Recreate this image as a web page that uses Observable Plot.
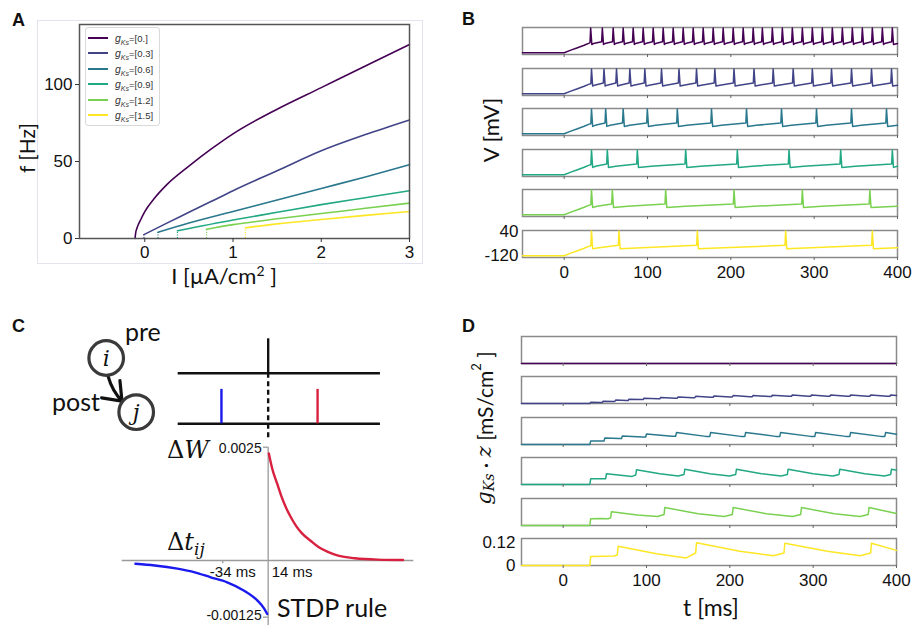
<!DOCTYPE html>
<html><head><meta charset="utf-8">
<script src="https://cdn.jsdelivr.net/npm/d3@7"></script>
<script src="https://cdn.jsdelivr.net/npm/@observablehq/plot@0.6"></script>
<style>
body{margin:0;background:#fff;}
#fig{position:relative;width:912px;height:625px;overflow:hidden;background:#fff;}
#fig > svg, #fig > div{position:absolute;}
</style></head><body><div id="fig"></div>
<script>
// ---------------- DATA ----------------
const gKsLabels = ["0.", "0.3", "0.6", "0.9", "1.2", "1.5"];

// Panel A: f-I curves, [I (uA/cm2), f (Hz)]
const fiG0  = [[-0.11,0],[-0.105,3],[-0.09,6.5],[-0.07,9.5],[-0.04,13],[0,17.5],[0.1,25.5],[0.25,35],[0.5,47],[0.75,58],[1,68],[1.5,84],[2,98],[2.5,112],[3,126]];
const fiG03 = [[-0.01,2.5],[0.25,10],[0.5,17],[0.75,24],[1,31],[1.5,44],[2,57],[2.5,67.5],[3,77]];
const fiG06 = [[0.15,4],[0.5,10],[1,17.5],[1.5,25],[2,32.5],[2.5,40],[3,48]];
const fiG09 = [[0.37,5],[1,12],[1.5,17],[2,22],[2.5,26.5],[3,31]];
const fiG12 = [[0.7,6],[1,9],[1.5,12.8],[2,16.2],[2.5,19.6],[3,23]];
const fiG15 = [[1.14,7],[1.5,9.5],[2,12.3],[2.5,15],[3,17.5]];
const fiCurves = [fiG0, fiG03, fiG06, fiG09, fiG12, fiG15];

// Panels B & D: spike times (ms) per gKs row
const tSpikes = [
  [31,45,58,70,82,94,106,118,130,142,154,166,178,190,202,214,226,237,249,261,273,285,297,309,321,333,345,357,369,381,393],
  [32,47,62,78,96,116,137,158,180,203,227,250,274,297,320,344,368,392],
  [32,49,70,99,135,176,218,260,302,344,386],
  [32,51,87,145,207,269,331,393],
  [32,57,121,203,285,366],
  [32,65,159,265,369]
];
// Panel B: membrane potential levels (mV)
const vRest = -118, vPeak = 44;
const vOnsetRamp = [[8,-101],[16,-85],[24,-69],[30,-55]];
const vAfter = [-64,-68,-70,-70,-70,-73];
const vMid   = [-58,-62,-63,-62,-63,-66];
const vPre   = [-46,-47,-48,-48,-48,-50];

// Panel D: gKs*z (mS/cm2) after each spike (peak), before each spike (trough / pre), mid-ISI, end value
const gzPeak = [
  [],
  [0.006,0.012,0.018,0.023,0.028,0.032,0.035,0.038,0.040,0.042,0.043,0.044,0.045,0.045,0.045,0.045,0.045,0.045],
  [0.018,0.035,0.045,0.056,0.063,0.064,0.064,0.064,0.064,0.064,0.064],
  [0.030,0.057,0.078,0.081,0.081,0.081,0.081,0.081],
  [0.036,0.073,0.095,0.095,0.095,0.095],
  [0.048,0.102,0.120,0.118,0.118]
];
const gzTrough = [
  [],
  [0,0.005,0.011,0.016,0.021,0.025,0.028,0.031,0.033,0.035,0.036,0.037,0.038,0.038,0.038,0.038,0.038,0.038],
  [0,0.018,0.032,0.040,0.044,0.043,0.043,0.043,0.043,0.043,0.043],
  [0,0.030,0.043,0.045,0.045,0.045,0.045,0.045],
  [0,0.036,0.048,0.048,0.048,0.048],
  [0,0.050,0.040,0.052,0.052]
];
const gzPre = [null,null,null,
  [0,0.031,0.050,0.053,0.053,0.053,0.053,0.053],
  [0,0.041,0.058,0.058,0.058,0.058],
  [0,0.056,0.066,0.066,0.066]];
const gzMid = [null,null,null,
  [0.030,0.049,0.057,0.057,0.057,0.057,0.057],
  [0.037,0.056,0.062,0.062,0.062],
  [0.049,0.062,0.076,0.076]];
const gzEnd = [0,0.043,0.054,0.076,0.064,0.080];

// Panel C: network nodes, spike raster, STDP curves
const nodes = [{id:"i", col:0, row:1}, {id:"j", col:1, row:0}];
const rasterRows = [0, 1];              // post, pre
const rasterSpikes = [
  {dt:0,   base:1, top:1.68, kind:"pre"},
  {dt:-35, base:0, top:0.68, kind:"dep"},
  {dt:37,  base:0, top:0.68, kind:"pot"}
];
const stdpPot = [[0.5,0.00236],[3,0.00203],[6.8,0.00169],[10,0.00141],[13,0.00119],[16.9,0.00096],[21,0.00076],[25,0.00061],[32,0.00043],[38,0.00029],[44.7,0.00019],[50,0.00013],[57,0.00008],[65,0.00005],[82,0.00002],[101,0.00001]];
const stdpDep = [[-99.4,-0.000073],[-85,-0.00011],[-68,-0.00018],[-55,-0.00026],[-43,-0.00037],[-30.7,-0.00048],[-18.3,-0.00066],[-8.2,-0.00088],[-3,-0.00106],[-0.7,-0.00118]];

// ---------------- DRAWING ----------------
const fig = document.getElementById("fig");
const colors = gKsLabels.map((_, i) => d3.interpolateViridis(i / 5));
const tickFont = "'Liberation Sans', Arial, sans-serif";
function place(el, left, top) { el.style.left = left + "px"; el.style.top = top + "px"; fig.appendChild(el); return el; }

// faint outline around panel A
const boxA = document.createElement("div");
boxA.style.cssText = "width:384px;height:242px;border:1px solid #e3e3ef;";
place(boxA, 37, 20);

// ---- Panel A ----
const fiRows = fiCurves.flatMap((c, i) => c.map(([I, f]) => ({I, f, g: gKsLabels[i]})));
const onsets = fiCurves.map((c, i) => ({I: c[0][0], f: c[0][1], g: gKsLabels[i]}));
const plotA = Plot.plot({
  width: 430, height: 290, marginLeft: 79, marginRight: 21, marginTop: 24, marginBottom: 52,
  style: {fontFamily: tickFont, fontSize: "17px", background: "transparent", color: "#111"},
  x: {domain: [-0.74, 3]}, y: {domain: [0, 139]},
  color: {domain: gKsLabels, range: colors},
  marks: [
    Plot.ruleX(onsets, {x: "I", y1: 0, y2: "f", stroke: "g", strokeDasharray: "1,1.5", strokeWidth: 1.2}),
    Plot.line(fiRows, {x: "I", y: "f", z: "g", stroke: "g", strokeWidth: 1.6, curve: "monotone-x"}),
    Plot.frame({stroke: "#555", strokeWidth: 1.5}),
    Plot.axisX({ticks: [0,1,2,3], tickSize: 4, tickPadding: 3, label: null, stroke: "#333", tickFormat: d => String(d)}),
    Plot.axisY({ticks: [0,50,100], tickSize: 4, tickPadding: 3, label: null, stroke: "#333", tickFormat: d => String(d)})
  ]
});
place(plotA, 0, 0);

// legend for A
const leg = document.createElement("div");
leg.style.cssText = "width:73px;height:97px;border:1px solid #d9d9d9;border-radius:3px;background:#fff;font-family:" + tickFont + ";font-size:9.5px;color:#333;";
gKsLabels.forEach((lab, i) => {
  const row = document.createElement("div");
  row.style.cssText = `position:absolute;left:2px;top:${3 + i * 15.45}px;height:14px;width:72px;`;
  row.innerHTML = `<span style="position:absolute;left:0;top:6px;width:20px;height:2px;background:${colors[i]}"></span>` +
    `<span style="position:absolute;left:27px;top:0;line-height:14px;white-space:nowrap"><i style="font-size:10.5px">g</i><sub style="font-size:7px;font-style:italic">Ks</sub>=[${lab}]</span>`;
  leg.appendChild(row);
});
place(leg, 85, 27);

// ---- Panel B ----
function vTrace(k) {
  const s = tSpikes[k];
  const pts = [[-50, vRest], [0, vRest], ...vOnsetRamp];
  s.forEach((t, j) => {
    pts.push([t, j === 0 ? -52 : vPre[k]]);
    pts.push([t + 0.8, vPeak]);
    pts.push([t + 2.2, vAfter[k]]);
    const next = s[j + 1];
    if (next !== undefined) pts.push([t + 0.3 * (next - t), vMid[k]]);
    else pts.push([400, vMid[k]]);
  });
  return pts.map(([t, v]) => ({t, v}));
}
function gzTrace(k) {
  const s = tSpikes[k];
  if (!gzPeak[k].length) return [{t: -50, v: 0}, {t: 400, v: gzEnd[k]}];
  const pts = [[-50, 0], [s[0], 0]];
  s.forEach((t, j) => {
    pts.push([t + 1, gzPeak[k][j]]);
    const next = s[j + 1];
    if (next !== undefined) {
      const isi = next - t;
      if (gzMid[k]) pts.push([t + isi / 2, gzMid[k][j]]);
      pts.push([next - Math.max(1.5, 0.12 * isi), gzTrough[k][j + 1]]);
      pts.push([next, gzPre[k] ? gzPre[k][j + 1] : gzTrough[k][j + 1]]);
    } else pts.push([400, gzEnd[k]]);
  });
  return pts.map(([t, v]) => ({t, v}));
}
function stackRow(k, data, yDomain, yTicks, yFmt, last, ml, mr, padY) {
  const mb = last ? 32 : 6;
  const marks = [
    Plot.frame({stroke: "#8a8a8a", strokeWidth: 1.5}),
    Plot.line(data, {x: "t", y: "v", stroke: colors[k], strokeWidth: 1.5}),
    Plot.axisX({ticks: [0,100,200,300,400], tickSize: 3, tickPadding: 5, label: null, stroke: "#666",
      tickFormat: last ? (d => String(d)) : (() => "")})
  ];
  if (last) marks.push(Plot.axisY({ticks: yTicks, tickSize: 0, tickPadding: padY, label: null, tickFormat: yFmt}));
  return Plot.plot({
    width: 472, height: 27 + 2 + mb, marginLeft: ml, marginRight: mr, marginTop: 2, marginBottom: mb,
    style: {fontFamily: tickFont, fontSize: "17px", background: "transparent", color: "#111", overflow: "visible"},
    x: {domain: [-50, 400]}, y: {domain: yDomain, axis: last ? undefined : null},
    marks
  });
}
for (let k = 0; k < 6; k++) {
  const p = stackRow(k, vTrace(k), [-130, 48], [40, -120], d => String(d), k === 5, 82, 15, 4);
  place(p, 440, 27.3 + k * 40.5 - 2);
}
// ---- Panel D ----
for (let k = 0; k < 6; k++) {
  const p = stackRow(k, gzTrace(k), [0, 0.143], [0, 0.12], d => (d === 0 ? "0" : d3.format(".2f")(d)), k === 5, 81, 16, 6);
  place(p, 440, 335.7 + k * 40.5 - 2);
}

// ---- Panel C ----
const xDt = {domain: [-118.1, 114.1]};
const diagram = Plot.plot({
  width: 180, height: 140, margin: 0,
  style: {background: "transparent", overflow: "visible"},
  x: {domain: [0, 1], range: [105.7, 135.7], axis: null},
  y: {domain: [0, 1], range: [111.7, 57.5], axis: null},
  marks: [
    Plot.arrow([{a: nodes[0], b: nodes[1]}], {x1: d => d.a.col, y1: d => d.a.row, x2: d => d.b.col, y2: d => d.b.row,
      bend: -32, insetStart: 19, insetEnd: 18, strokeWidth: 3.2, headLength: 13, headAngle: 75, stroke: "#111"}),
    Plot.dot(nodes, {x: "col", y: "row", r: 17.3, stroke: "#3a3a3a", strokeWidth: 3.2, fill: "#fff"}),
    Plot.text(nodes, {x: "col", y: "row", text: "id", fontSize: 22, fontStyle: "italic",
      fontFamily: "'DejaVu Serif', serif", fill: "#111", dy: 1})
  ]
});
place(diagram, 0, 300);

const raster = Plot.plot({
  width: 310, height: 115, margin: 0,
  style: {background: "transparent", overflow: "visible"},
  x: {...xDt, axis: null},
  y: {domain: [0, 1], range: [93.3, 42.7], axis: null},
  color: {domain: ["pre", "dep", "pot"], range: ["#111", "#1a1aee", "#d8203f"]},
  marks: [
    Plot.ruleY(rasterRows, {y: d => d, x1: -67.4, x2: 84.1, stroke: "#111", strokeWidth: 2.4}),
    Plot.ruleX(rasterSpikes, {x: "dt", y1: "base", y2: "top", stroke: "kind", strokeWidth: 2.4}),
    Plot.ruleX([0], {x: d => d, y1: 1, y2: -0.29, stroke: "#111", strokeWidth: 2.4, strokeDasharray: "5,3.5"})
  ]
});
place(raster, 110, 330);

const stdp = Plot.plot({
  width: 310, height: 185, margin: 0,
  style: {background: "transparent", overflow: "visible"},
  x: {...xDt, axis: null},
  y: {domain: [-0.001434, 0.002648], axis: null},
  marks: [
    Plot.ruleY([0], {y: d => d, x1: -109.3, x2: 109.1, stroke: "#9a9a9a", strokeWidth: 1.3}),
    Plot.ruleX([0], {x: d => d, y1: -0.0015, y2: 0.0025, stroke: "#9a9a9a", strokeWidth: 1.3}),
    Plot.ruleY([0.0025], {y: d => d, x1: -3.5, x2: 0, stroke: "#9a9a9a", strokeWidth: 1.3}),
    Plot.ruleY([-0.00125], {y: d => d, x1: -3.5, x2: 0, stroke: "#9a9a9a", strokeWidth: 1.3}),
    Plot.ruleX([-34], {x: d => d, y1: 0, y2: -0.00007, stroke: "#9a9a9a", strokeWidth: 1.3}),
    Plot.line(stdpPot.map(([dt, w]) => ({dt, w})), {x: "dt", y: "w", stroke: "#d8203f", strokeWidth: 2.4, curve: "monotone-x"}),
    Plot.line(stdpDep.map(([dt, w]) => ({dt, w})), {x: "dt", y: "w", stroke: "#1a1aee", strokeWidth: 2.4, curve: "monotone-x"})
  ]
});
place(stdp, 110, 440);

// ---- Text overlay ----
const NS = "http://www.w3.org/2000/svg";
const ov = document.createElementNS(NS, "svg");
ov.setAttribute("width", 912); ov.setAttribute("height", 625);
ov.style.cssText = "position:absolute;left:0;top:0;pointer-events:none;";
fig.appendChild(ov);
const sans = "Lato, 'Open Sans', sans-serif";
const serif = "'DejaVu Serif', serif";
function txt(x, y, html, o = {}) {
  const t = document.createElementNS(NS, "text");
  t.setAttribute("x", x); t.setAttribute("y", y);
  t.setAttribute("font-family", o.family || sans);
  t.setAttribute("font-size", o.size || 20);
  if (o.weight) t.setAttribute("font-weight", o.weight);
  if (o.anchor) t.setAttribute("text-anchor", o.anchor);
  if (o.rotate) { t.setAttribute("transform", `rotate(-90 ${x} ${y})`); t.setAttribute("dominant-baseline", "central"); }
  t.setAttribute("fill", o.fill || "#111");
  t.innerHTML = html;
  ov.appendChild(t);
  return t;
}
const bold = {family: "'Liberation Sans', Arial, sans-serif", size: 18, weight: "bold"};
txt(12, 26, "A", bold); txt(462, 25, "B", bold); txt(12, 332, "C", bold); txt(462, 332, "D", bold);
txt(26, 148, "f [Hz]", {size: 21, anchor: "middle", rotate: true});
txt(224, 284, "I [µA/cm<tspan font-size='14' dy='-8'>2</tspan><tspan dy='8'> ]</tspan>", {size: 22, anchor: "middle"});
txt(490, 130, "V [mV]", {size: 22, anchor: "middle", rotate: true});
txt(711, 616, "t [ms]", {size: 23, anchor: "middle"});
txt(484, 428, `<tspan font-family="${serif}" font-style="italic">g</tspan><tspan font-family="${serif}" font-style="italic" font-size="14" dy="5">Ks</tspan><tspan dy="-5"> · </tspan><tspan font-family="${serif}" font-style="italic">z</tspan> [mS/cm<tspan font-size="13" dy="-8">2</tspan><tspan dy="8"> ]</tspan>`, {size: 21, anchor: "middle", rotate: true});
txt(125, 341, "pre", {size: 25});
txt(52, 411, "post", {size: 25});
txt(167, 458, `Δ<tspan font-style="italic">W</tspan>`, {family: serif, size: 24});
txt(167, 550, `Δ<tspan font-style="italic">t</tspan><tspan font-style="italic" font-size="17" dy="5">ij</tspan>`, {family: serif, size: 24});
const small = {family: "'Liberation Sans', Arial, sans-serif", size: 14};
txt(261.7, 453, "0.0025", {...small, anchor: "end"});
txt(261.7, 620, "-0.00125", {...small, anchor: "end"});
txt(255.7, 577, "-34 ms", {...small, size: 15, anchor: "end"});
txt(271.7, 577, "14 ms", {...small, size: 15});
txt(277, 617, "STDP rule", {size: 25});
</script></body></html>
